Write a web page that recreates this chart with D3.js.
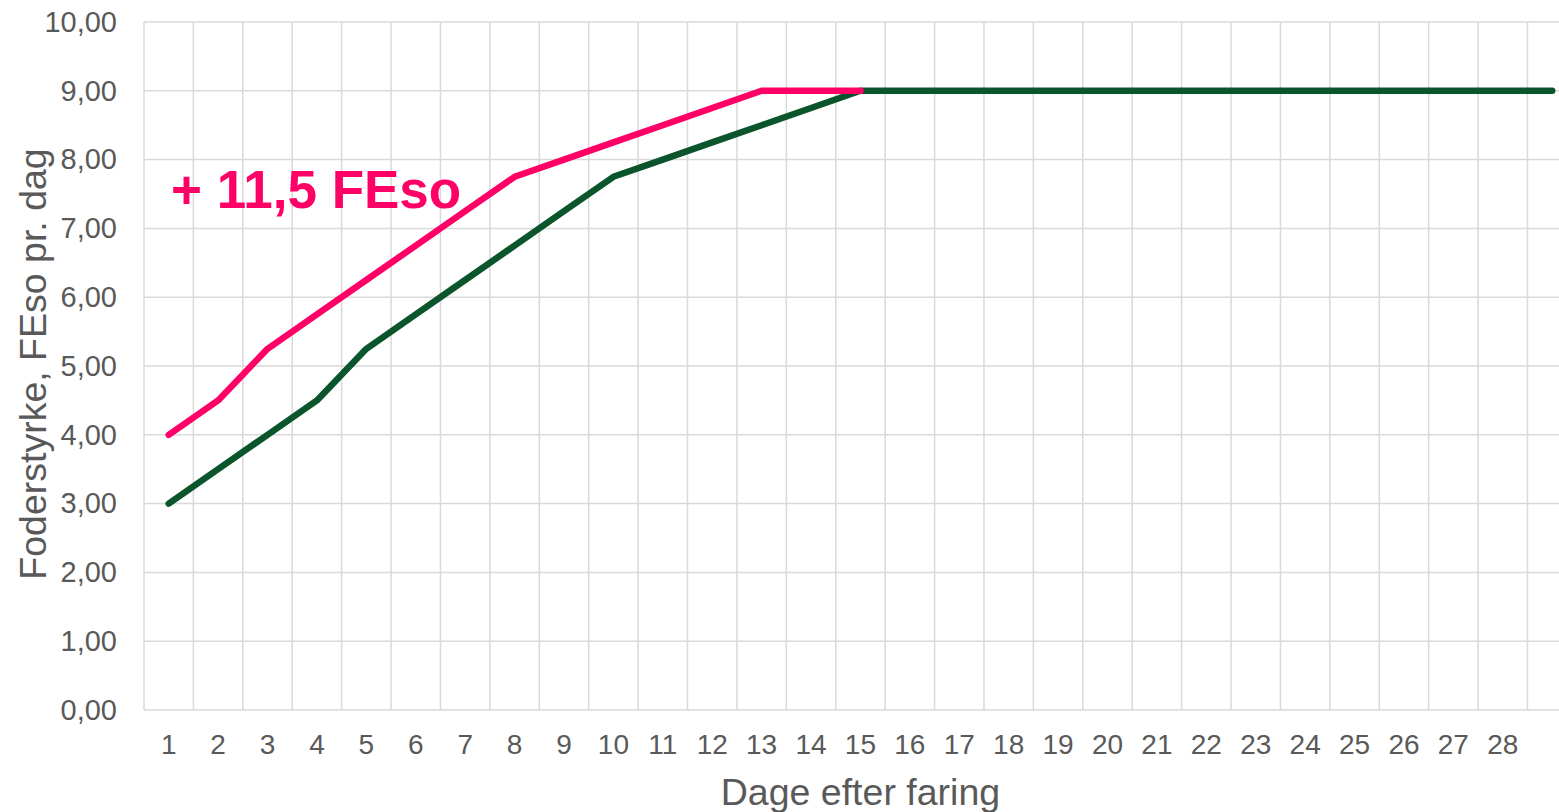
<!DOCTYPE html>
<html><head><meta charset="utf-8">
<script src="https://cdn.jsdelivr.net/npm/d3@7"></script>
<style>body{margin:0;background:#fff;overflow:hidden}svg{display:block}</style>
</head><body>
<svg id="c" width="1559" height="812"></svg>
<script>
const days = d3.range(1, 30);
const dayLabels = days.map(d => d <= 28 ? String(d) : "");
const pinkValues = [4.0,4.5,5.25,5.75,6.25,6.75,7.25,7.75,8.0,8.25,8.5,8.75,9.0,9.0,9.0];
const greenValues = [3.0,3.5,4.0,4.5,5.25,5.75,6.25,6.75,7.25,7.75,8.0,8.25,8.5,8.75,9.0,9.0,9.0,9.0,9.0,9.0,9.0,9.0,9.0,9.0,9.0,9.0,9.0,9.0,9.0];
const yTicks = [0,1,2,3,4,5,6,7,8,9,10];
const annotation = "+ 11,5 FEso";
const xTitle = "Dage efter faring";
const yTitle = "Foderstyrke, FEso pr. dag";

(function(){
const svg = d3.select("#c");
const mLeft = 144, mTop = 22, mBottom = 710, bw = 49.41;
const xEnd = mLeft + days.length * bw;
const x = d3.scaleBand().domain(days).range([mLeft, xEnd]).padding(0);
const y = d3.scaleLinear().domain([0, 10]).range([mBottom, mTop]);
const grid = "#d9d9d9", txt = "#595959", font = "'Liberation Sans', Arial, sans-serif";

svg.append("g").selectAll("line").data(yTicks).join("line")
  .attr("x1", mLeft).attr("x2", xEnd)
  .attr("y1", d => y(d)).attr("y2", d => y(d))
  .attr("stroke", grid).attr("stroke-width", 1.5);
svg.append("g").selectAll("line").data(days.concat([30])).join("line")
  .attr("x1", d => d <= 29 ? x(d) : xEnd)
  .attr("x2", d => d <= 29 ? x(d) : xEnd)
  .attr("y1", mTop).attr("y2", mBottom)
  .attr("stroke", grid).attr("stroke-width", 1.5);

const yAxis = d3.axisLeft(y).tickValues(yTicks).tickSize(0).tickPadding(27)
  .tickFormat(d => d3.format(".2f")(d).replace(".", ","));
const gy = svg.append("g").attr("transform", `translate(${mLeft},0)`).call(yAxis);
gy.select(".domain").remove();
gy.selectAll("text").attr("fill", txt).style("font", `29px ${font}`);

const xAxis = d3.axisBottom(x).tickSize(0).tickPadding(24).tickFormat((d, i) => dayLabels[i]);
const gx = svg.append("g").attr("transform", `translate(0,${mBottom})`).call(xAxis);
gx.select(".domain").remove();
gx.selectAll("text").attr("fill", txt).style("font", `28px ${font}`);

const line = d3.line().x((d, i) => x(days[i]) + x.bandwidth() / 2).y(d => y(d));
svg.append("path").datum(greenValues).attr("d", line).attr("fill", "none")
  .attr("stroke", "#0b552c").attr("stroke-width", 6.5).attr("stroke-linecap", "round").attr("stroke-linejoin", "round");
svg.append("path").datum(pinkValues).attr("d", line).attr("fill", "none")
  .attr("stroke", "#ff0066").attr("stroke-width", 6.5).attr("stroke-linecap", "round").attr("stroke-linejoin", "round");

svg.append("text").attr("x", 171).attr("y", 208).text(annotation)
  .attr("fill", "#ff0066").style("font", `bold 53px ${font}`);

svg.append("text").attr("x", (mLeft + xEnd) / 2).attr("y", 805)
  .attr("text-anchor", "middle").attr("fill", txt).style("font", `37.5px ${font}`).text(xTitle);
svg.append("text").attr("transform", `translate(46,${(mTop + mBottom) / 2 - 2}) rotate(-90)`)
  .attr("text-anchor", "middle").attr("fill", txt).style("font", `37.5px ${font}`).text(yTitle);
})();
</script>
</body></html>
